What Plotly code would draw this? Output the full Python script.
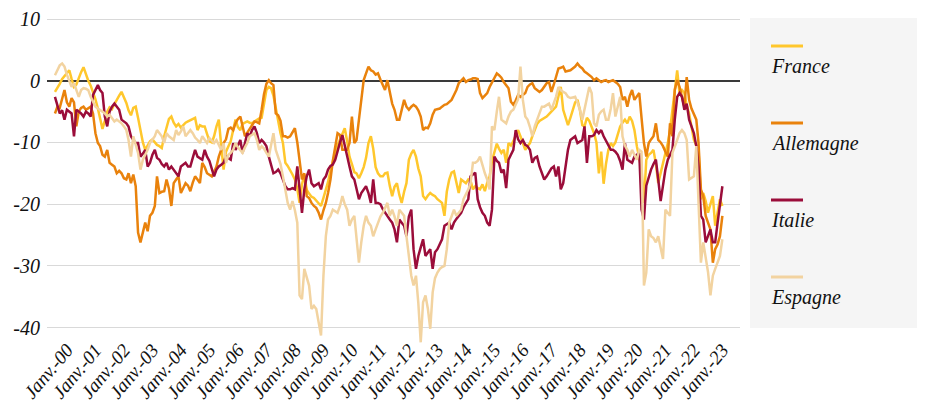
import pandas as pd
import plotly.graph_objects as go

# Monthly observations, Aug 1999 -> Jan 2023
dates = pd.date_range("1999-08-01", periods=282, freq="MS")

france = [
    -1.8, -1.0, -0.5, 0.3, 0.8, 1.2, 1.7, 0.3, -1.0, -0.6,
    0.5, 1.4, 2.2, 1.0, 0.0, -0.8, -1.8, -3.0, -4.5, -6.2,
    -7.8, -6.5, -5.0, -4.3, -4.6, -3.8, -3.0, -2.4, -1.8, -2.6,
    -3.6, -4.8, -5.6, -4.4, -4.2, -6.0, -8.2, -10.0, -11.2, -10.4,
    -9.8, -9.5, -10.0, -10.4, -10.6, -10.9, -9.0, -7.5, -6.2, -5.8,
    -6.8, -7.4, -7.0, -7.6, -7.2, -6.8, -6.6, -6.4, -6.1, -6.0,
    -8.0, -7.2, -7.4, -7.4, -8.6, -9.8, -10.0, -9.0, -7.4, -6.3,
    -10.5, -14.4, -11.5, -10.5, -9.8, -8.0, -6.3, -7.5, -8.0, -7.0,
    -6.8, -6.6, -6.8, -6.9, -6.6, -6.3, -6.1, -6.0, -4.0, -1.5,
    -1.0, -1.2, -2.4, -4.5, -6.4, -8.5, -10.1, -13.3, -13.8, -14.4,
    -15.2, -16.0, -17.5, -19.8, -16.8, -15.2, -17.7, -18.3, -18.8, -19.0,
    -19.4, -19.8, -20.3, -19.0, -17.7, -16.4, -14.6, -13.0, -11.7, -10.5,
    -9.5, -8.6, -7.7, -9.8, -12.3, -13.5, -14.8, -15.0, -15.8, -15.0,
    -14.0, -12.5, -10.1, -9.0, -11.0, -14.0, -15.0, -15.5, -15.5, -15.0,
    -14.9, -17.0, -18.7, -17.2, -16.6, -18.5, -19.8, -18.0, -16.6, -12.8,
    -11.8, -11.2, -12.3, -14.2, -15.5, -18.7, -19.2, -18.6, -18.2, -18.5,
    -18.7, -19.2, -19.5, -19.8, -21.9, -18.0, -16.0, -14.9, -14.7, -16.5,
    -18.2, -16.0, -16.3, -16.6, -16.0, -16.2, -17.6, -17.1, -17.4, -17.6,
    -16.8, -17.9, -16.5, -15.5, -13.0, -11.5, -10.2, -11.0, -11.7, -11.2,
    -13.3, -10.1, -10.5, -9.8, -9.0, -8.0, -9.0, -10.1, -11.2, -10.6,
    -10.1, -9.0, -7.8, -7.0, -6.5, -6.3, -6.0, -5.8, -5.4, -5.0,
    -4.6, -4.2, -2.5, -1.0, -4.7, -6.0, -7.2, -6.0, -4.7, -3.5,
    -3.1, -4.7, -7.2, -7.4, -6.0, -6.5, -7.5, -8.5, -10.0, -15.0,
    -11.5, -16.7, -13.5, -11.2, -10.1, -10.6, -10.0, -8.5, -7.4, -6.8,
    -6.3, -6.9, -5.8, -6.5, -8.0, -10.6, -12.5, -14.4, -19.8, -12.8,
    -12.0, -11.7, -11.2, -13.5, -16.6, -15.0, -13.3, -12.0, -10.1, -8.0,
    -4.5, -2.0, 1.7, -2.0, -1.5, -2.0, -4.0, -5.3, -7.4, -9.6,
    -10.5, -11.2, -19.2, -18.2, -19.5, -21.4, -20.0, -18.7, -23.5, -21.0,
    -19.2, -20.3,
]

allemagne = [
    -5.3, -4.2, -4.4, -3.0, -1.5, -3.5, -4.2, -2.8, -3.5, -7.4,
    -5.0, -4.4, -4.2, -4.7, -4.4, -4.2, -5.3, -8.5, -10.1, -10.6,
    -12.0, -12.3, -11.2, -13.3, -13.6, -13.9, -15.0, -14.6, -15.0, -15.8,
    -16.0, -15.0, -16.6, -15.2, -17.1, -24.6, -26.2, -24.5, -23.0, -24.4,
    -21.9, -21.4, -20.3, -15.5, -18.2, -18.0, -17.9, -16.0, -17.5, -20.3,
    -16.6, -16.0, -15.5, -18.2, -17.4, -16.6, -17.0, -17.9, -16.5, -15.5,
    -16.0, -16.6, -13.3, -14.0, -15.0, -15.2, -15.5, -14.8, -13.9, -12.3,
    -11.2, -10.1, -9.5, -7.8, -7.6, -8.0, -6.9, -6.2, -5.8, -7.5,
    -9.0, -8.4, -7.8, -7.4, -6.6, -6.7, -6.9, -4.7, -2.2, -0.5,
    0.1, -0.4, -0.7, -5.3, -5.6, -6.5, -9.0, -9.0, -9.2, -9.0,
    -8.4, -7.7, -10.0, -13.3, -16.0, -15.0, -18.7, -19.0, -19.8, -20.3,
    -20.6, -21.4, -22.5, -21.0, -19.8, -18.2, -16.0, -13.0, -10.5, -8.5,
    -8.8, -11.2, -11.2, -11.2, -10.1, -5.8, -10.1, -9.6, -6.3, -3.1,
    0.1, 1.2, 2.3, 1.7, 1.5, 1.0, 1.2, 0.2, -0.6, -1.5,
    0.1, -2.0, -3.7, -4.7, -6.3, -6.3, -4.5, -3.1, -4.2, -4.7,
    -4.2, -3.9, -4.2, -4.8, -5.8, -8.0, -7.6, -7.7, -6.9, -5.5,
    -4.7, -4.6, -4.5, -4.2, -3.9, -3.8, -3.4, -3.1, -2.3, -1.5,
    -0.4, 0.0, 0.4, -0.2, 0.1, 0.2, 0.4, 0.4, 0.3, -2.0,
    -2.8, -2.4, -2.0, -1.0, -0.3, 0.5, 1.2, 0.9, 0.5, -0.2,
    -0.8, -1.2, -3.4, -3.9, -3.2, -2.3, -2.6, -2.3, -2.0, -1.0,
    -0.6, -0.4, -1.2, -1.5, -1.8, -1.5, -1.0, -0.4, -0.2, -1.8,
    -0.6, 0.6, 2.0, 2.1, 2.3, 1.5, 1.6, 1.7, 2.0, 2.3,
    2.8, 2.3, 2.0, 1.5, 1.2, 0.9, 0.6, 0.1, 0.4, 0.1,
    -0.2, 0.0, 0.1, -0.2, 0.0, 0.1, -0.2, -0.5, -1.0, -3.1,
    -2.6, -4.2, -2.5, -1.5, -3.1, -2.5, -2.0, -6.0, -10.1, -12.3,
    -10.1, -9.5, -9.0, -6.9, -9.6, -10.0, -10.6, -11.5, -12.3, -6.9,
    -9.0, -1.5, 0.1, -1.0, -2.5, -4.2, 0.6, -3.1, -4.5, -5.3,
    -6.3, -10.0, -17.6, -18.7, -21.9, -23.0, -24.1, -29.5, -27.3, -26.5,
    -25.2, -21.9,
]

italie = [
    -2.6, -4.2, -5.3, -4.8, -6.3, -4.7, -5.0, -5.3, -9.0, -4.7,
    -5.0, -5.3, -5.8, -5.0, -5.3, -5.8, -2.3, -1.5, -0.7, -1.5,
    -2.0, -5.8, -7.4, -5.0, -4.2, -3.7, -4.2, -4.7, -6.3, -6.6,
    -6.9, -7.4, -9.0, -9.6, -10.1, -10.1, -12.3, -11.8, -11.2, -13.9,
    -13.3, -12.0, -11.2, -12.5, -12.8, -13.5, -13.9, -13.3, -14.4, -13.9,
    -14.5, -15.0, -15.5, -13.9, -13.5, -13.3, -13.9, -13.9, -12.5, -11.2,
    -12.3, -12.5, -12.8, -11.2, -12.3, -13.0, -14.4, -15.5, -14.4, -13.9,
    -13.6, -13.3, -12.3, -12.5, -12.8, -10.1, -11.2, -10.5, -9.6, -11.7,
    -10.0, -8.5, -9.0, -8.0, -7.4, -8.5, -10.1, -9.6, -10.0, -10.6,
    -12.3, -13.5, -15.0, -14.8, -14.4, -15.0, -16.0, -17.1, -17.6, -17.6,
    -17.4, -17.6, -13.9, -17.5, -21.4, -17.6, -15.5, -14.4, -16.6, -17.1,
    -16.8, -16.6, -17.6, -16.0, -15.5, -14.4, -13.8, -13.6, -12.8, -11.2,
    -10.0, -8.8, -10.6, -12.5, -13.9, -15.5, -16.0, -17.5, -19.2, -18.2,
    -17.6, -17.1, -18.2, -19.8, -16.0, -19.8, -19.8, -20.0, -20.8, -21.4,
    -21.9, -22.5, -23.0, -24.1, -26.2, -22.5, -23.0, -23.5, -25.2, -22.0,
    -20.9, -27.3, -30.5, -28.4, -27.0, -25.7, -28.4, -27.8, -27.3, -30.5,
    -27.8, -27.3, -26.5, -25.7, -23.5, -23.3, -23.0, -24.1, -23.0, -22.4,
    -21.9, -21.4, -20.5, -19.8, -19.2, -15.5, -15.2, -14.9, -19.2, -20.5,
    -21.4, -21.9, -23.0, -23.5, -20.9, -12.3, -13.0, -13.3, -14.9, -14.4,
    -17.4, -12.8, -12.0, -11.2, -8.0, -9.5, -10.1, -9.6, -10.4, -10.6,
    -11.2, -13.3, -12.5, -12.3, -13.9, -15.0, -16.0, -15.5, -14.9, -14.2,
    -13.9, -15.5, -13.9, -17.6, -16.6, -14.0, -11.2, -9.6, -9.3, -9.0,
    -10.1, -9.8, -9.6, -7.4, -13.3, -9.0, -9.0, -8.8, -8.0, -8.5,
    -8.0, -9.0, -9.8, -10.6, -11.2, -11.2, -11.5, -12.0, -13.0, -14.4,
    -10.1, -12.8, -13.0, -13.3, -12.3, -12.0, -11.7, -20.9, -22.5, -17.0,
    -15.5, -14.4, -13.5, -12.8, -16.0, -19.5, -17.0, -14.4, -12.8, -12.0,
    -11.2, -6.3, -2.6, -2.0, -2.6, -4.7, -3.7, -6.3, -7.5, -8.5,
    -10.6, -14.0, -21.9, -22.5, -26.2, -25.0, -24.1, -26.2, -26.2, -23.0,
    -19.8, -17.1,
]

espagne = [
    0.9, 1.7, 2.5, 2.8, 2.3, 1.0, 0.1, -1.0, -0.4, -1.5,
    -2.6, -1.5, -1.2, -1.3, -1.5, -2.6, -3.5, -4.2, -4.5, -4.7,
    -5.0, -5.3, -5.8, -5.5, -6.1, -6.6, -6.3, -6.6, -6.9, -7.4,
    -8.0, -9.6, -12.3, -9.0, -10.5, -11.7, -14.4, -12.8, -12.0, -11.2,
    -10.1, -9.5, -9.0, -8.0, -8.5, -9.0, -10.1, -8.5, -9.0, -9.3,
    -9.6, -8.0, -8.8, -8.2, -7.4, -9.0, -8.5, -8.0, -8.5, -9.2,
    -9.6, -10.1, -9.0, -9.6, -10.1, -9.3, -9.8, -10.1, -9.6, -10.5,
    -11.2, -10.1, -13.3, -12.0, -11.7, -11.2, -10.1, -10.8, -11.2, -11.7,
    -10.8, -10.1, -9.0, -8.8, -8.5, -9.6, -11.2, -10.6, -11.0, -11.7,
    -12.3, -10.5, -8.5, -11.2, -12.5, -13.5, -15.5, -18.0, -19.8, -20.9,
    -19.5, -21.0, -23.0, -34.8, -35.4, -30.5, -32.0, -33.2, -37.0, -36.5,
    -37.0, -39.0, -41.3, -31.6, -25.2, -22.5, -21.9, -20.9, -21.2, -21.4,
    -20.3, -18.7, -20.0, -20.9, -23.5, -22.5, -21.9, -25.2, -29.5, -26.2,
    -23.5, -21.9, -23.0, -23.5, -25.2, -24.1, -23.0, -22.0, -21.4, -20.5,
    -19.8, -21.9, -20.9, -22.0, -23.5, -20.9, -21.5, -21.9, -25.2, -28.0,
    -31.6, -33.2, -31.6, -36.0, -42.4, -35.9, -34.8, -37.0, -40.2, -34.3,
    -32.0, -31.1, -30.5, -30.2, -30.0, -27.3, -23.0, -22.0, -20.9, -21.9,
    -21.4, -20.9, -19.2, -18.4, -17.6, -16.6, -13.3, -13.3, -13.0, -12.3,
    -13.9, -15.0, -16.0, -17.6, -7.4, -8.0, -5.0, -2.6, -6.3, -6.6,
    -6.9, -5.8, -5.0, -4.7, -3.7, -3.0, 2.3, -3.1, -5.8, -6.3,
    -7.5, -9.0, -7.4, -6.3, -5.0, -4.2, -4.2, -4.0, -3.7, -4.7,
    -3.5, -2.6, -1.0, -1.5, -1.8, -2.0, -2.6, -2.8, -2.7, -2.6,
    -3.5, -4.7, -6.3, -4.7, -2.5, -1.0, -2.0, -6.9, -7.4, -5.5,
    -5.0, -4.7, -6.3, -6.3, -4.5, -2.0, -5.8, -4.0, -2.6, -9.0,
    -10.5, -11.2, -12.3, -11.2, -12.0, -12.8, -11.2, -11.5, -33.2, -31.1,
    -24.1, -25.2, -25.5, -26.2, -25.2, -27.0, -28.9, -20.9, -21.5, -21.9,
    -11.7, -10.5, -9.6, -8.5, -8.0, -8.5, -9.6, -16.0, -15.8, -15.5,
    -10.6, -20.0, -29.5, -26.2, -28.4, -31.0, -34.8, -31.6, -30.5, -29.5,
    -28.4, -25.7,
]

series_names = ["France", "Allemagne", "Italie", "Espagne"]
series_values = [france, allemagne, italie, espagne]
series_colors = ["#FFC72C", "#E9820C", "#9B0D3A", "#F2D3A0"]

x_tick_dates = [f"{y}-01-01" for y in range(2000, 2024)]
x_tick_labels = [
    "Janv.-00", "Janv.-01", "Janv.-02", "Janv.-03", "Janv.-04", "Janv.-05",
    "Janv.-06", "Janv.-07", "Janv.-08", "Janv.-09", "Janv.-10", "Janv.-11",
    "Janv.-12", "Janv.-13", "Janv.-14", "Janv.-15", "Janv.-16", "Janv.-17",
    "Janv.-18", "Janv.-19", "Janv.-20", "Janv.-21", "Janv.-22", "Janv.-23",
]
y_tick_vals = [10, 0, -10, -20, -30, -40]
y_tick_labels = ["10", "0", "-10", "-20", "-30", "-40"]

FONT = "Liberation Serif"
OFF = 8  # page body margin
W, H = 925 - OFF, 407 - OFF
# plot area in page pixels: x 47..740, y 16..346
L, T = 47 - OFF, 16 - OFF
R = W - (740 - OFF)
B = H - (346 - OFF)

fig = go.Figure()
for name, vals, col in zip(series_names, series_values, series_colors):
    fig.add_trace(go.Scatter(x=dates, y=vals, mode="lines", name=name,
                             line=dict(color=col, width=2.5), showlegend=False))

pw, ph = W - L - R, H - T - B
def px(x):
    return (x - OFF - L) / pw
def py(y):
    return (H - B - (y - OFF)) / ph

shapes = [dict(type="rect", xref="paper", yref="paper",
               x0=px(750), x1=px(930), y0=py(328), y1=py(18),
               fillcolor="#F5F5F5", line=dict(width=0), layer="below")]
annotations = []
for k, (name, col) in enumerate(zip(series_names, series_colors)):
    ly = 46 + 77 * k
    shapes.append(dict(type="line", xref="paper", yref="paper",
                       x0=px(771), x1=px(803), y0=py(ly), y1=py(ly),
                       line=dict(color=col, width=3)))
    annotations.append(dict(xref="paper", yref="paper", x=px(769), y=py(ly + 20),
                            xanchor="left", yanchor="middle", showarrow=False,
                            text=name,
                            font=dict(family=FONT, size=20, style="italic", color="#111111")))

fig.update_layout(
    width=W, height=H, autosize=False,
    margin=dict(l=L, r=R, t=T, b=B, autoexpand=False),
    paper_bgcolor="white", plot_bgcolor="white",
    shapes=shapes, annotations=annotations,
    xaxis=dict(type="date", range=["1999-04-21", "2023-08-15"], automargin=False,
               tickvals=x_tick_dates, ticktext=x_tick_labels, tickangle=-50,
               showgrid=False, zeroline=False, showline=False, ticks="",
               ticklabelstandoff=-12,
               tickfont=dict(family=FONT, size=19, style="italic", color="#111111")),
    yaxis=dict(range=[-43, 10.5], tickvals=y_tick_vals, ticktext=y_tick_labels,
               automargin=False,
               showgrid=True, gridcolor="#D9D9D9", gridwidth=1,
               zeroline=True, zerolinecolor="#3A3A3A", zerolinewidth=1.5,
               showline=False, ticks="", ticklabelstandoff=6,
               tickfont=dict(family=FONT, size=20, style="italic", color="#111111")),
)

fig.write_html("out.html")
